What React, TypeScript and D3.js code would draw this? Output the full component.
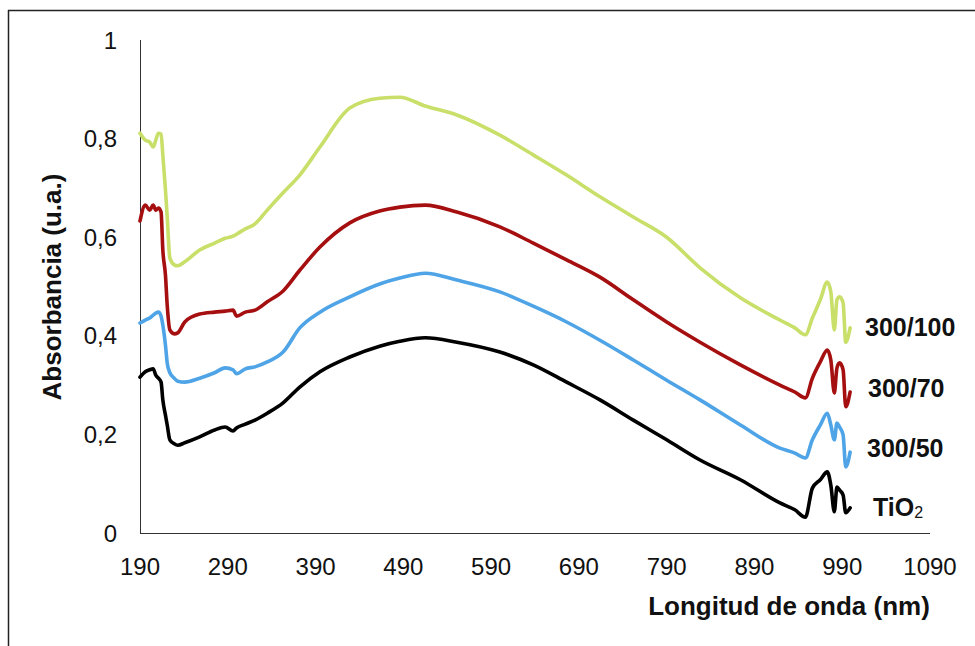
import React from "react";
import * as d3 from "d3";

const wavelengths = [190, 196, 201, 205, 208, 211, 214, 216, 219, 221, 224, 229, 233, 241, 258, 275, 287, 296, 300, 310, 321, 335, 353, 372, 395, 429, 463, 486, 515, 551, 600, 638, 676, 714, 752, 790, 828, 874, 919, 936, 948, 956, 965, 973, 977, 981, 984, 987, 991, 994, 999];

const s300_100 = [0.811, 0.797, 0.793, 0.783, 0.797, 0.811, 0.809, 0.767, 0.696, 0.641, 0.558, 0.544, 0.542, 0.55, 0.574, 0.588, 0.598, 0.602, 0.606, 0.617, 0.627, 0.655, 0.69, 0.726, 0.783, 0.862, 0.882, 0.884, 0.866, 0.848, 0.807, 0.767, 0.726, 0.682, 0.641, 0.6, 0.538, 0.477, 0.432, 0.416, 0.402, 0.436, 0.473, 0.509, 0.489, 0.412, 0.473, 0.479, 0.467, 0.387, 0.416];

const s300_70 = [0.633, 0.665, 0.655, 0.665, 0.655, 0.659, 0.651, 0.574, 0.523, 0.462, 0.412, 0.404, 0.406, 0.428, 0.444, 0.448, 0.45, 0.452, 0.44, 0.448, 0.452, 0.469, 0.491, 0.533, 0.58, 0.629, 0.653, 0.661, 0.665, 0.651, 0.621, 0.588, 0.554, 0.519, 0.473, 0.428, 0.387, 0.341, 0.3, 0.286, 0.274, 0.314, 0.347, 0.371, 0.351, 0.284, 0.335, 0.345, 0.331, 0.256, 0.286];

const s300_50 = [0.426, 0.432, 0.436, 0.442, 0.446, 0.448, 0.44, 0.422, 0.381, 0.345, 0.325, 0.314, 0.308, 0.306, 0.314, 0.325, 0.335, 0.331, 0.323, 0.333, 0.337, 0.347, 0.367, 0.416, 0.448, 0.479, 0.505, 0.517, 0.527, 0.513, 0.489, 0.46, 0.428, 0.391, 0.351, 0.31, 0.27, 0.219, 0.172, 0.162, 0.152, 0.189, 0.219, 0.243, 0.219, 0.189, 0.223, 0.215, 0.199, 0.134, 0.164];

const sTiO2 = [0.316, 0.327, 0.331, 0.333, 0.32, 0.314, 0.306, 0.27, 0.239, 0.219, 0.189, 0.181, 0.178, 0.183, 0.195, 0.209, 0.215, 0.207, 0.213, 0.221, 0.229, 0.243, 0.264, 0.296, 0.327, 0.357, 0.379, 0.389, 0.396, 0.387, 0.367, 0.341, 0.306, 0.27, 0.229, 0.189, 0.148, 0.108, 0.061, 0.047, 0.032, 0.091, 0.108, 0.124, 0.097, 0.043, 0.093, 0.087, 0.077, 0.041, 0.051];

const xTicks = [190, 290, 390, 490, 590, 690, 790, 890, 990, 1090];
const yTicks = [0, 0.2, 0.4, 0.6, 0.8, 1];

const seriesNames = ["300/100", "300/70", "300/50", "TiO2"];
const seriesColors = ["#c8df6a", "#a50f0f", "#4ea4e6", "#000000"];
const seriesValues = [s300_100, s300_70, s300_50, sTiO2];

const W = 975;
const H = 646;
const font = "'Liberation Sans', Arial, sans-serif";

export default function App() {
  const x = d3.scaleLinear().domain([190, 1090]).range([140, 930]);
  const y = d3.scaleLinear().domain([0, 1]).range([533, 40]);

  const line = d3
    .line<[number, number]>()
    .x((d) => x(d[0]))
    .y((d) => y(d[1]))
    .curve(d3.curveMonotoneX);

  const fmt = (v: number) => (v === 0 ? "0" : v === 1 ? "1" : d3.format(".1f")(v).replace(".", ","));

  const labelPos = [
    { x: 865, y: 327 },
    { x: 868, y: 388 },
    { x: 867, y: 448 },
    { x: 873, y: 507 },
  ];

  return (
    <svg
      width={W}
      height={H}
      style={{ position: "absolute", left: 0, top: 0, background: "#fff" }}
      fontFamily={font}
    >
      <rect x={0} y={0} width={W} height={H} fill="#fff" />
      {/* outer frame */}
      <line x1={8} y1={10.5} x2={W} y2={10.5} stroke="#222" strokeWidth={1.5} />
      <line x1={8.5} y1={10} x2={8.5} y2={H} stroke="#222" strokeWidth={1.5} />

      {/* axes */}
      <line x1={140.5} y1={y(1)} x2={140.5} y2={y(0)} stroke="#333" strokeWidth={1} />
      <line x1={140} y1={533.5} x2={930} y2={533.5} stroke="#333" strokeWidth={1} />

      {yTicks.map((t) => (
        <text
          key={"y" + t}
          x={117}
          y={y(t)}
          textAnchor="end"
          dominantBaseline="central"
          fontSize={24}
          fill="#111"
        >
          {fmt(t)}
        </text>
      ))}
      {xTicks.map((t) => (
        <text
          key={"x" + t}
          x={x(t)}
          y={575}
          textAnchor="middle"
          fontSize={24}
          fill="#111"
        >
          {t}
        </text>
      ))}

      {seriesValues.map((vals, i) => {
        const pts: [number, number][] = wavelengths.map((w, j) => [w, vals[j]]);
        return (
          <path
            key={seriesNames[i]}
            d={line(pts) || ""}
            fill="none"
            stroke={seriesColors[i]}
            strokeWidth={3.6}
            strokeLinejoin="round"
            strokeLinecap="round"
          />
        );
      })}

      {seriesNames.map((n, i) => (
        <text
          key={"lab" + n}
          x={labelPos[i].x}
          y={labelPos[i].y}
          dominantBaseline="central"
          fontSize={25}
          fontWeight="bold"
          fill="#111"
        >
          {n === "TiO2" ? (
            <>
              TiO
              <tspan fontSize={16} fontWeight="normal" dy={5}>
                2
              </tspan>
            </>
          ) : (
            n
          )}
        </text>
      ))}

      <text x={789} y={615} textAnchor="middle" fontSize={26} fontWeight="bold" fill="#111">
        Longitud de onda (nm)
      </text>
      <text
        transform={`translate(52,287) rotate(-90)`}
        textAnchor="middle"
        dominantBaseline="central"
        fontSize={26}
        fontWeight="bold"
        fill="#111"
      >
        Absorbancia (u.a.)
      </text>
    </svg>
  );
}
